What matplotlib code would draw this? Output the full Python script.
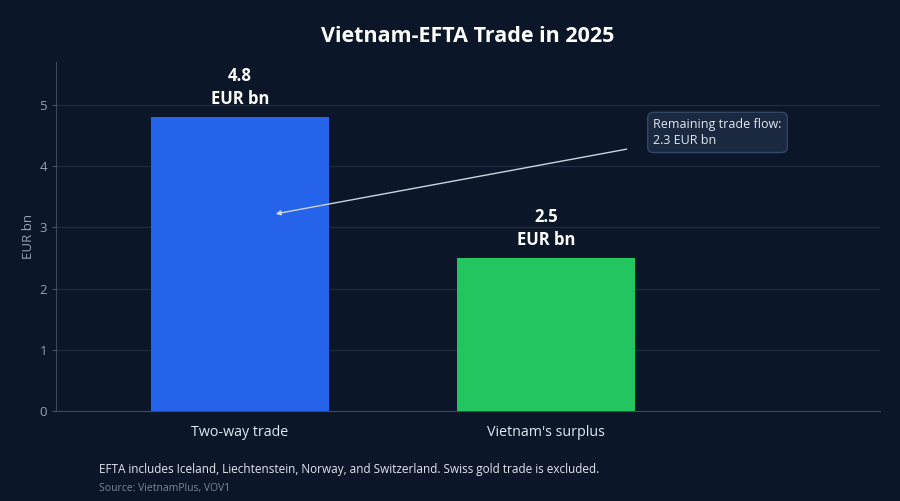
import matplotlib
matplotlib.use("Agg")
import matplotlib.pyplot as plt

plt.rcParams['font.family'] = ['Open Sans', 'DejaVu Sans']

categories = ["Two-way trade", "Vietnam's surplus"]
values = [4.8, 2.5]
bar_labels = ["4.8\nEUR bn", "2.5\nEUR bn"]
colors = ["#2563eb", "#22c55e"]
yticks = [0, 1, 2, 3, 4, 5]
note_text = "Remaining trade flow:\n2.3 EUR bn"

bg = "#0b1628"
fig = plt.figure(figsize=(9, 5.01), dpi=100, facecolor=bg)
ax = fig.add_axes([56/900, 1-411/501, (880-56)/900, (411-62)/501], facecolor=bg)

x = list(range(len(categories)))
ax.bar(x, values, width=0.58, color=colors, zorder=3)
for xi, v, lab in zip(x, values, bar_labels):
    ax.text(xi, v + 0.15, lab, ha='center', va='bottom', color='white',
            fontsize=12, fontweight='bold', linespacing=1.35, zorder=4)

ax.set_xlim(-0.6, 2.09)
ax.set_ylim(0, 5.7)
ax.set_yticks(yticks)
ax.set_xticks(x)
ax.set_xticklabels(categories, fontsize=10.3, color='#e2e8f0')
ax.tick_params(axis='x', length=0, pad=10)
ax.tick_params(axis='y', colors='#94a3b8', labelsize=9.5, length=3, color='#475569')
ax.grid(axis='y', color='#1f2d42', linewidth=0.9, zorder=0)
for s in ['top', 'right']:
    ax.spines[s].set_visible(False)
for s in ['left', 'bottom']:
    ax.spines[s].set_color('#3b4a5f')
ax.set_ylabel("EUR bn", color='#94a3b8', fontsize=9.5, labelpad=3)

ax.annotate(note_text, xy=(0.117, 3.22), xytext=(1.35, 4.55),
            color='#e2e8f0', fontsize=9, ha='left', va='center', linespacing=1.3,
            bbox=dict(boxstyle='round,pad=0.45', fc='#1a2940', ec='#334766', lw=1),
            arrowprops=dict(arrowstyle='-|>', color='#cbd5e1', lw=1, mutation_scale=7,
                            shrinkA=15, shrinkB=0), zorder=5)

fig.text(468/900, 1-37/501, "Vietnam-EFTA Trade in 2025", ha='center', va='center',
         color='white', fontsize=15.5, fontweight='bold')
fig.text(99/900, 1-469/501, "EFTA includes Iceland, Liechtenstein, Norway, and Switzerland. Swiss gold trade is excluded.",
         ha='left', va='center', color='#e2e8f0', fontsize=8.5)
fig.text(99/900, 1-488/501, "Source: VietnamPlus, VOV1", ha='left', va='center',
         color='#7b8799', fontsize=7.5)

fig.savefig("out.png", dpi=100, facecolor=bg)
